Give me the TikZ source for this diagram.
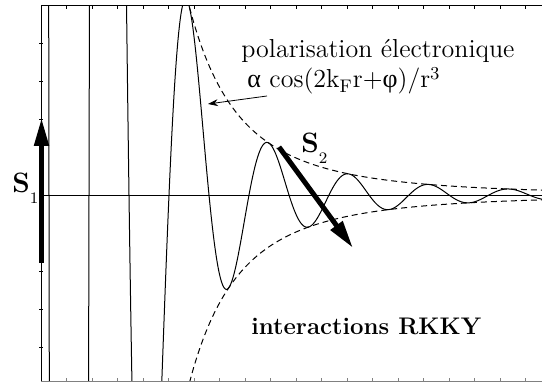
\documentclass[tikz,border=0pt]{standalone}
\usepackage{fontspec}
\newfontfamily\grk{Liberation Serif}
\usetikzlibrary{arrows.meta}

\begin{document}
\begin{tikzpicture}[
  x=0.5pt,y=-0.5pt,
  curve/.style={line width=0.5pt,draw=black},
  env/.style={line width=0.5pt,dash pattern=on 3pt off 2pt},
  tick/.style={line width=0.4pt},
  spin/.style={-{Triangle[length=14pt,width=7pt]},line width=2.5pt},
  arr/.style={-{Stealth[length=5pt,width=3.5pt]},line width=0.4pt},
  lbl/.style={inner sep=0pt,anchor=base west,font=\fontsize{13}{15}\selectfont},
  spinlbl/.style={inner sep=0pt,anchor=base west,font=\fontsize{14}{16}\selectfont\bfseries}
]
\newcommand{\spinsub}[1]{\raisebox{-5.5pt}{\fontsize{8}{9}\selectfont\mdseries #1}}
\useasboundingbox (0,0) rectangle (542,383);
% frame, axis and ticks
\draw[line width=0.5pt] (41,381) -- (41,6) -- (542,6);
\draw[gray,tick] (41,381) -- (542,381);
\draw[tick] (41,195) -- (542,195);
\foreach \i in {1,...,19} {
  \draw[tick] (41+25.5*\i,6) -- ++(0,3);
  \draw[gray,tick] (41+25.5*\i,381) -- ++(0,-3);
}
\foreach \j in {-4,...,4}
  \draw[tick] (39,195+38*\j) -- ++(4,0);

% oscillation cos(2kF r+phi)/r^3 and its envelope
\begin{scope}
  \clip (41,6) rectangle (542,381);
  \draw[curve] plot[domain=41.1:542,samples=1400]
    (\x,{195-max(-250,min(250,(min(850/(\x-41),20))^3*cos(4.5*(\x-49)+90)))});
  \draw[env] plot[domain=146:501,samples=160] ({41+\x},{195-(850/\x)^3});
  \draw[env] plot[domain=146:501,samples=160] ({41+\x},{195+(850/\x)^3});
\end{scope}

% spins
\coordinate (s1tail) at (41.5,263);
\coordinate (s1tip) at (41.5,118);
\draw[spin] (s1tail) -- (s1tip);
\node[spinlbl] (s1) at (12,193) {S\spinsub{1}};

\coordinate (s2tail) at (279,147);
\coordinate (s2tip) at (353,248);
\draw[spin] (s2tail) -- (s2tip);
\node[spinlbl] (s2) at (301,153) {S\spinsub{2}};

% labels
\node[lbl] (pol) at (241,58) {polarisation électronique};
\node[lbl] (form) at (247,88) {{\grk α} cos(2k\textsubscript{F}r+{\grk φ})/r\textsuperscript{3}};
\coordinate (polstart) at (267,96);
\coordinate (polend) at (208,104);
\draw[arr] (polstart) -- (polend);

\node[lbl,font=\fontsize{12}{15}\selectfont\bfseries] (rkky) at (251,335) {interactions RKKY};
\end{tikzpicture}
\end{document}
